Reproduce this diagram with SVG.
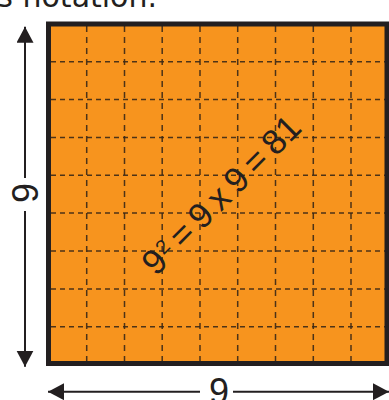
<svg xmlns="http://www.w3.org/2000/svg" width="389" height="400" viewBox="0 0 389 400">
<defs>
<style>
.ink{fill:#231F20;font-family:"Liberation Sans",Arial,sans-serif}
.grid{stroke:#3a2816;stroke-width:1.5;fill:none;stroke-opacity:0.9}
.gh{stroke-dasharray:5 4}
.gv{stroke-dasharray:6 5}
.conn{stroke:#231F20;stroke-width:2;fill:none;marker-end:url(#arrow)}
</style>
<marker id="arrow" markerUnits="userSpaceOnUse" markerWidth="17" markerHeight="18" refX="16" refY="8.5" orient="auto">
<path d="M0,0 L16,8.5 L0,17 Z" fill="#231F20"/>
</marker>
</defs>
<rect width="389" height="400" fill="#ffffff"/>
<text x="-11" y="7" font-family="DejaVu Sans, sans-serif" font-size="30" fill="#231F20">is notation.</text>
<g id="square">
<rect x="48.5" y="24" width="338.5" height="339.5" fill="#F7941E"/>
<g class="grid gv">
<line x1="86.7" y1="26" x2="86.7" y2="361"/>
<line x1="124.5" y1="26" x2="124.5" y2="361"/>
<line x1="162.2" y1="26" x2="162.2" y2="361"/>
<line x1="200" y1="26" x2="200" y2="361"/>
<line x1="237.7" y1="26" x2="237.7" y2="361"/>
<line x1="275.5" y1="26" x2="275.5" y2="361"/>
<line x1="313.3" y1="26" x2="313.3" y2="361"/>
<line x1="351" y1="26" x2="351" y2="361"/>
</g>
<g class="grid gh">
<line x1="51" y1="61.7" x2="385" y2="61.7"/>
<line x1="51" y1="99.6" x2="385" y2="99.6"/>
<line x1="51" y1="137.4" x2="385" y2="137.4"/>
<line x1="51" y1="175.3" x2="385" y2="175.3"/>
<line x1="51" y1="213.1" x2="385" y2="213.1"/>
<line x1="51" y1="251" x2="385" y2="251"/>
<line x1="51" y1="288.9" x2="385" y2="288.9"/>
<line x1="51" y1="326.7" x2="385" y2="326.7"/>
</g>
<rect x="48.5" y="24" width="338.5" height="339.5" fill="none" stroke="#231F20" stroke-width="5"/>
<text class="ink" font-size="35" word-spacing="-3" transform="translate(156,277) rotate(-45)">9<tspan font-size="20" dx="1" dy="-10">2</tspan><tspan dy="10"> = 9 x 9 = 81</tspan></text>
</g>
<g id="label-left">
<text class="ink" font-size="36" text-anchor="middle" transform="translate(38,193) rotate(-90)">9</text>
</g>
<g id="label-bottom">
<text class="ink" font-size="36" text-anchor="middle" x="219" y="404">9</text>
</g>
<g id="connectors">
<line class="conn" x1="25" y1="178" x2="25" y2="26.7"/>
<line class="conn" x1="25" y1="211" x2="25" y2="366.7"/>
<line class="conn" x1="200" y1="391.7" x2="48" y2="391.7"/>
<line class="conn" x1="233" y1="391.7" x2="389" y2="391.7"/>
</g>
</svg>
